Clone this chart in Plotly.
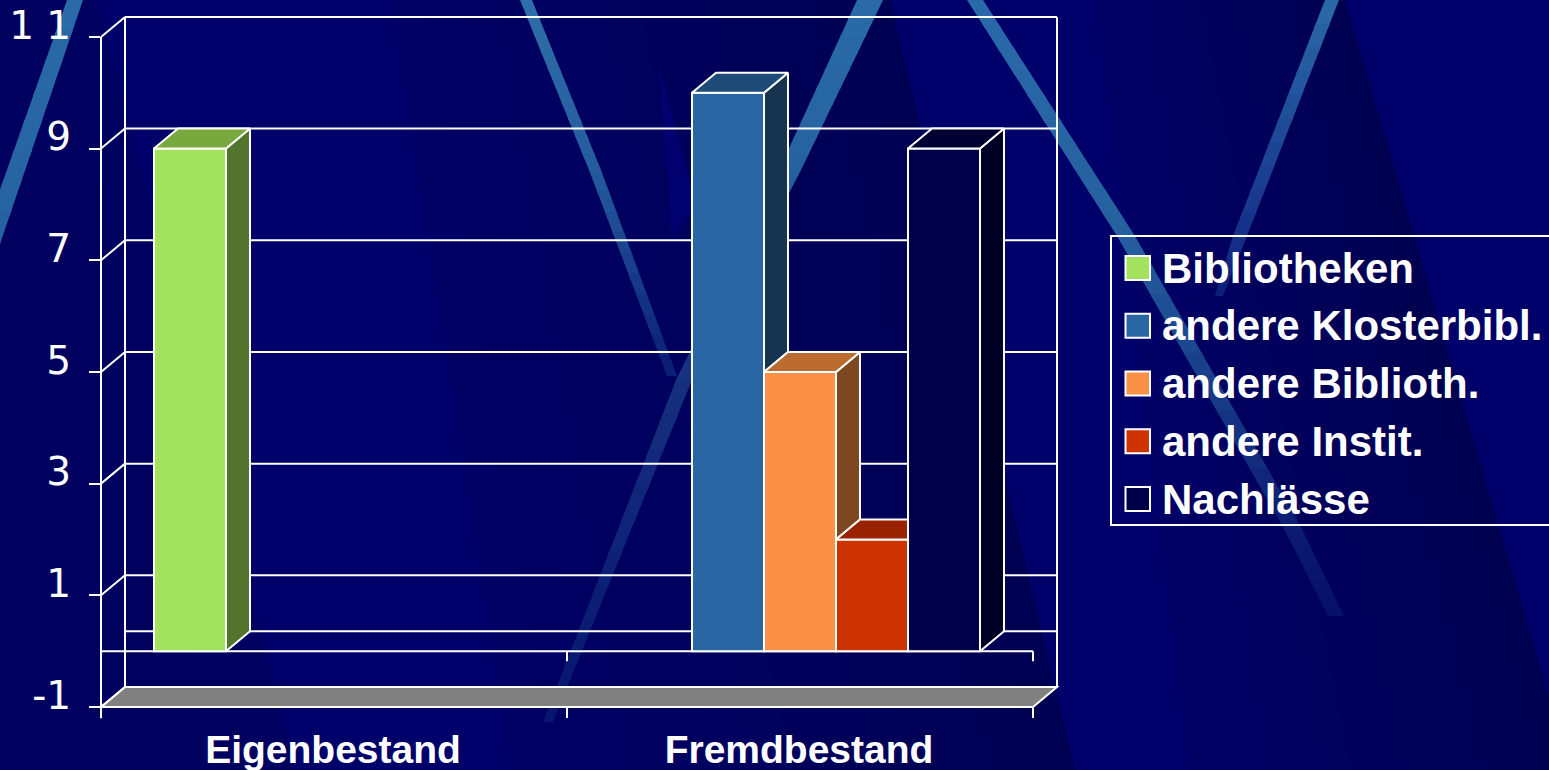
import plotly.graph_objects as go

# ---- data ----
categories = ["Eigenbestand", "Fremdbestand"]
series_names = ["Bibliotheken", "andere Klosterbibl.", "andere Biblioth.", "andere Instit.", "Nachlässe"]
bibliotheken = [9, None]
klosterbibl = [None, 10]
biblioth = [None, 5]
instit = [None, 2]
nachlaesse = [None, 9]
y_tick_values = [-1, 1, 3, 5, 7, 9, 11]
y_tick_labels = ["-1", "1", "3", "5", "7", "9", "1 1"]

front_colors = ["#a3e25c", "#2a66a4", "#fb9047", "#cc3300", "#00004a"]
side_colors = ["#53742c", "#16344f", "#7d4821", "#992200", "#000026"]
top_colors = ["#78a83e", "#1f4b78", "#bc6b30", "#992200", "#000032"]

series = [bibliotheken, klosterbibl, biblioth, instit, nachlaesse]

# ---- geometry ----
W, H = 1549, 770
L, R, T, B = 101, 1057, 17, 707
UX = 466.0           # pixels per category
UY = 55.84           # pixels per y unit
DX = 24.0 / UX       # 3-D depth in data units
DY = 20.0 / UY
X0, X1 = -0.5, -0.5 + (R - L) / UX
Y0, Y1 = -1.0, -1.0 + (B - T) / UY
BARGAP = 0.2275
SLOT = (1 - BARGAP) / len(series)
FRONT_X1 = 1.5
TOP_Y = 11
WHITE = "#ffffff"


def xp(x):
    return (x - X0) / (X1 - X0)


def yp(y):
    return (y - Y0) / (Y1 - Y0)


def pxx(px):
    return (px - L) / (R - L)


def pxy(py):
    return (B - py) / (B - T)


shapes = []


def poly_px(points, color):
    path = "M" + " L".join(f"{pxx(a):.5f},{pxy(b):.5f}" for a, b in points) + " Z"
    shapes.append(dict(type="path", xref="paper", yref="paper", path=path, layer="below",
                       fillcolor=color, line=dict(width=0)))


def mix(c0, c1, t):
    a = [int(c0[i:i + 2], 16) for i in (1, 3, 5)]
    b = [int(c1[i:i + 2], 16) for i in (1, 3, 5)]
    return "#" + "".join(f"{round(p + (q - p) * t):02x}" for p, q in zip(a, b))


def wash(top_l, bot_l, top_r, bot_r, c0, c1, n=14):
    """Background panel shaded from its left edge to its right edge."""
    for i in range(n):
        t0, t1 = i / n, min(1, (i + 1.3) / n)
        f = lambda p, q, t: (p[0] + (q[0] - p[0]) * t, p[1] + (q[1] - p[1]) * t)
        poly_px([f(top_l, top_r, t0), f(top_l, top_r, t1), f(bot_l, bot_r, t1), f(bot_l, bot_r, t0)],
                mix(c0, c1, (i + .5) / n))


def band(stops, n=10):
    """Light diagonal streak. stops: (cx, cy, half-width along x, colour)"""
    for (a, b) in zip(stops[:-1], stops[1:]):
        for i in range(n):
            t0, t1 = i / n, min(1, (i + 1.2) / n)
            cx0, cy0, w0 = [a[k] + (b[k] - a[k]) * t0 for k in range(3)]
            cx1, cy1, w1 = [a[k] + (b[k] - a[k]) * t1 for k in range(3)]
            poly_px([(cx0 - w0, cy0), (cx0 + w0, cy0), (cx1 + w1, cy1), (cx1 - w1, cy1)],
                    mix(a[3], b[3], (i + .5) / n))


# background panels
wash((-40, 0), (-40, 770), (97, 0), (296, 770), "#00005e", "#000060", n=4)
wash((392, 0), (512, 770), (890, 0), (1075, 770), "#000066", "#000052")
wash((1097, 0), (1190, 770), (1345, 0), (1570, 770), "#000066", "#000050")
poly_px([(658, 60), (696, 205), (672, 240)], "#00006e")

# light streaks
band([(75, 0, 8, "#2a6aa8"), (-29, 300, 10, "#24609f")])
band([(526, 0, 6, "#2e6ea8"), (595, 170, 6, "#245c9e"), (672, 376, 5, "#0a1c74")])
band([(870, 0, 13, "#2a6aa8"), (790, 170, 11, "#2563a0"), (684, 380, 8, "#15307f"), (548, 722, 5, "#07146e")])
band([(975, 0, 8, "#2a6aa8"), (1126, 236, 9, "#255f9f"), (1292, 527, 9, "#0b1c72"), (1336, 616, 8, "#060f68")])
band([(1332, 0, 7, "#2a6aa8"), (1240, 236, 7, "#15308a"), (1219, 296, 4, "#0c1e78")])


def line(x0, y0, x1, y1):
    shapes.append(dict(type="line", xref="paper", yref="paper", layer="below",
                       x0=xp(x0), y0=yp(y0), x1=xp(x1), y1=yp(y1),
                       line=dict(color=WHITE, width=2)))


# floor
floor_path = "M" + " L".join(f"{xp(a):.5f},{yp(b):.5f}" for a, b in [
    (X0, Y0), (X0 + DX, Y0 + DY), (FRONT_X1 + DX, Y0 + DY), (FRONT_X1, Y0)]) + " Z"
shapes.append(dict(type="path", xref="paper", yref="paper", path=floor_path, layer="below",
                   fillcolor="#808080", line=dict(color=WHITE, width=2)))

# walls and grid
for v in y_tick_values:
    line(X0, v, X0 + DX, v + DY)
    line(X0 + DX, v + DY, FRONT_X1 + DX, v + DY)
line(X0 + DX, 0 + DY, FRONT_X1 + DX, 0 + DY)
line(X0, -1.2, X0, TOP_Y)
line(X0 + DX, -1 + DY, X0 + DX, TOP_Y + DY)
line(FRONT_X1 + DX, -1 + DY, FRONT_X1 + DX, TOP_Y + DY)
line(X0, 0, FRONT_X1, 0)
for tx in (0.5, FRONT_X1):
    line(tx, 0, tx, -10 / UY)
line(FRONT_X1, -1, X0, -1)

fig = go.Figure()

# front faces of the bars
for name, vals, col in zip(series_names, series, front_colors):
    fig.add_trace(go.Bar(x=[0, 1], y=vals, name=name, marker=dict(color=col, line=dict(color=WHITE, width=2)),
                         showlegend=False, hoverinfo="skip"))


def face(xs, ys, col):
    fig.add_trace(go.Scatter(x=xs, y=ys, mode="lines", fill="toself", fillcolor=col,
                             line=dict(color=WHITE, width=2), showlegend=False, hoverinfo="skip",
                             cliponaxis=False))


# side and top faces, hidden where the next bar stands in front of them
n = len(series)
for i, vals in enumerate(series):
    for c, v in enumerate(vals):
        if v is None:
            continue
        left = c - (1 - BARGAP) / 2 + i * SLOT
        right = left + SLOT
        nxt = series[i + 1][c] if i + 1 < n else None
        bottom = nxt if nxt is not None else 0
        if bottom < v:
            face([right, right + DX, right + DX, right, right],
                 [v, v + DY, bottom + DY, bottom, v], side_colors[i])
        far = right if (nxt is not None and nxt > v) else right + DX
        if far == right:
            face([left, left + DX, right, right, left], [v, v + DY, v + DY, v, v], top_colors[i])
        else:
            face([left, left + DX, far, right, left], [v, v + DY, v + DY, v, v], top_colors[i])

# hand-sized key, as the original's swatches are twice plotly's legend size
annotations = []
shapes.append(dict(type="rect", xref="paper", yref="paper", layer="below",
                   x0=pxx(1111), x1=pxx(1560), y0=pxy(525), y1=pxy(236),
                   line=dict(color=WHITE, width=2), fillcolor="rgba(0,0,0,0)"))
for i, (name, col) in enumerate(zip(series_names, front_colors)):
    cy = 268 + i * 57.75
    shapes.append(dict(type="rect", xref="paper", yref="paper", layer="below",
                       x0=pxx(1125.5), x1=pxx(1150), y0=pxy(cy + 12), y1=pxy(cy - 12),
                       fillcolor=col, line=dict(color=WHITE, width=2)))
    annotations.append(dict(xref="paper", yref="paper", x=pxx(1162), y=pxy(cy), text=name, showarrow=False,
                            xanchor="left", yanchor="middle", xshift=-2,
                            font=dict(family="Liberation Sans", size=42, color=WHITE, weight="bold")))

fig.update_layout(
    width=W, height=H, autosize=False,
    margin=dict(l=L, r=W - R, t=T, b=H - B, pad=0, autoexpand=False),
    paper_bgcolor="#00006a", plot_bgcolor="rgba(0,0,0,0)",
    barmode="group", bargap=BARGAP, bargroupgap=0,
    showlegend=False, shapes=shapes, annotations=annotations,
    xaxis=dict(range=[X0, X1], showgrid=False, zeroline=False, showline=False, automargin=False,
               tickmode="array", tickvals=[0, 1], ticktext=categories, ticks="",
               ticklabelstandoff=16, ticklabelshift=-1,
               tickfont=dict(family="Liberation Sans", size=39, color=WHITE, weight="bold"),
               minor=dict(tickmode="array", tickvals=[-0.5, 0.5, 1.5], ticks="outside", ticklen=10,
                          tickwidth=2, tickcolor=WHITE, showgrid=False)),
    yaxis=dict(range=[Y0, Y1], showgrid=False, zeroline=False, showline=False, automargin=False,
               tickmode="array", tickvals=y_tick_values, ticktext=y_tick_labels, ticks="outside",
               ticklen=11, tickwidth=2, tickcolor=WHITE, ticklabelstandoff=10, ticklabelshift=-12,
               tickfont=dict(family="DejaVu Sans", size=39, color=WHITE)),
)

fig.write_html("out.html", config=dict(displayModeBar=False),
               post_script="document.body.style.margin='0';document.body.style.overflow='hidden';")
